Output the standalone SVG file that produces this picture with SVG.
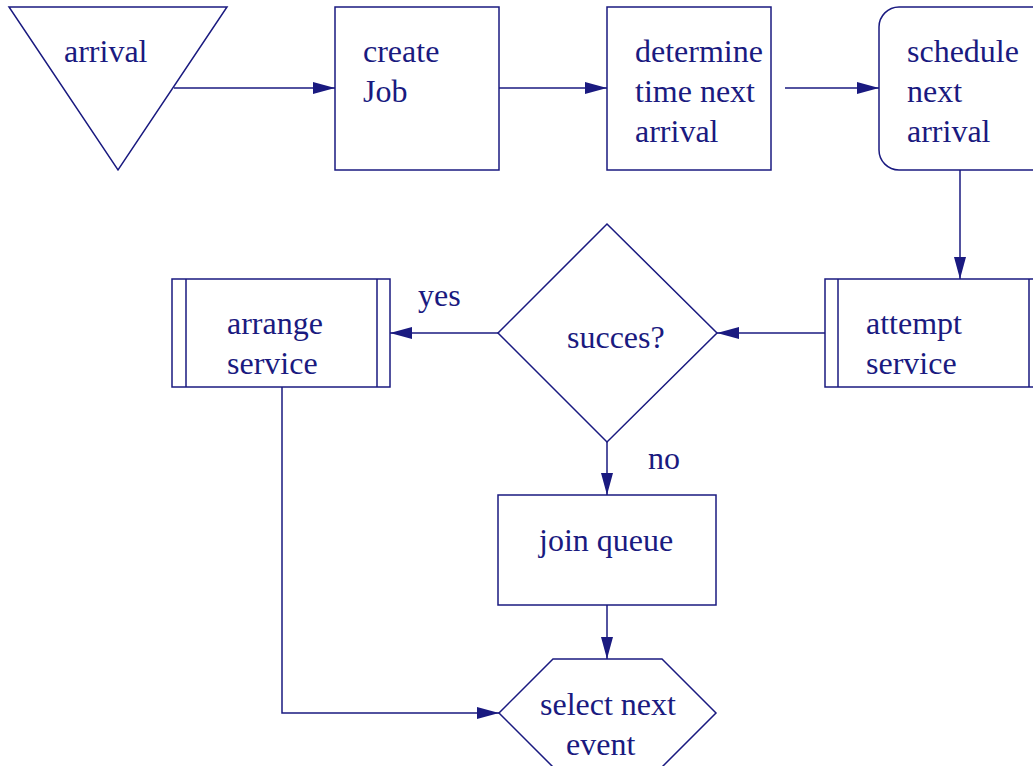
<svg xmlns="http://www.w3.org/2000/svg" width="1033" height="766" viewBox="0 0 1033 766">
<style>
.s{fill:#fff;stroke:#1a1a80;stroke-width:1.5}
.c{fill:none;stroke:#1a1a80;stroke-width:1.5}
text{font-family:"Liberation Serif","Times New Roman",serif;font-size:32px;fill:#1a1a80}
</style>
<defs>
<marker id="ah" markerUnits="userSpaceOnUse" markerWidth="24" markerHeight="12" refX="22" refY="6" orient="auto">
<path d="M0,0 L22,6 L0,12 Z" fill="#1a1a80"/>
</marker>
</defs>
<rect width="1033" height="766" fill="#fff"/>
<g id="connectors">
<path class="c" d="M174,88 H335" marker-end="url(#ah)"/>
<path class="c" d="M499,88 H607" marker-end="url(#ah)"/>
<path class="c" d="M785,88 H879" marker-end="url(#ah)"/>
<path class="c" d="M960,170 V279" marker-end="url(#ah)"/>
<path class="c" d="M825,333 H717" marker-end="url(#ah)"/>
<path class="c" d="M498,333 H390" marker-end="url(#ah)"/>
<path class="c" d="M607,442 V495" marker-end="url(#ah)"/>
<path class="c" d="M607,605 V659" marker-end="url(#ah)"/>
<path class="c" d="M282,387 V713 H499" marker-end="url(#ah)"/>
<text x="418" y="306">yes</text>
<text x="648" y="469">no</text>
</g>
<g id="arrival">
<polygon class="s" points="9,7 227,7 118,170"/>
<text x="64" y="62">arrival</text>
</g>
<g id="createJob">
<rect class="s" x="335" y="7" width="164" height="163"/>
<text x="363" y="62">create</text>
<text x="363" y="102">Job</text>
</g>
<g id="determine">
<rect class="s" x="607" y="7" width="164" height="163"/>
<text x="635" y="62">determine</text>
<text x="635" y="102">time next</text>
<text x="635" y="142">arrival</text>
</g>
<g id="schedule">
<rect class="s" x="879" y="7" width="180" height="163" rx="20" ry="20"/>
<text x="907" y="62">schedule</text>
<text x="907" y="102">next</text>
<text x="907" y="142">arrival</text>
</g>
<g id="attempt">
<rect class="s" x="825" y="279" width="218" height="108"/>
<path class="c" d="M838,279 V387 M1029,279 V387"/>
<text x="866" y="334">attempt</text>
<text x="866" y="374">service</text>
</g>
<g id="succes">
<polygon class="s" points="607,224 717,333 607,442 498,333"/>
<text x="567" y="348">succes?</text>
</g>
<g id="arrange">
<rect class="s" x="172" y="279" width="218" height="108"/>
<path class="c" d="M186,279 V387 M377,279 V387"/>
<text x="227" y="334">arrange</text>
<text x="227" y="374">service</text>
</g>
<g id="joinQueue">
<rect class="s" x="498" y="495" width="218" height="110"/>
<text x="539" y="551">join queue</text>
</g>
<g id="selectNext">
<polygon class="s" points="553,659 662,659 716,713 662,767 553,767 499,713"/>
<text x="540" y="715">select next</text>
<text x="566" y="755">event</text>
</g>
</svg>
